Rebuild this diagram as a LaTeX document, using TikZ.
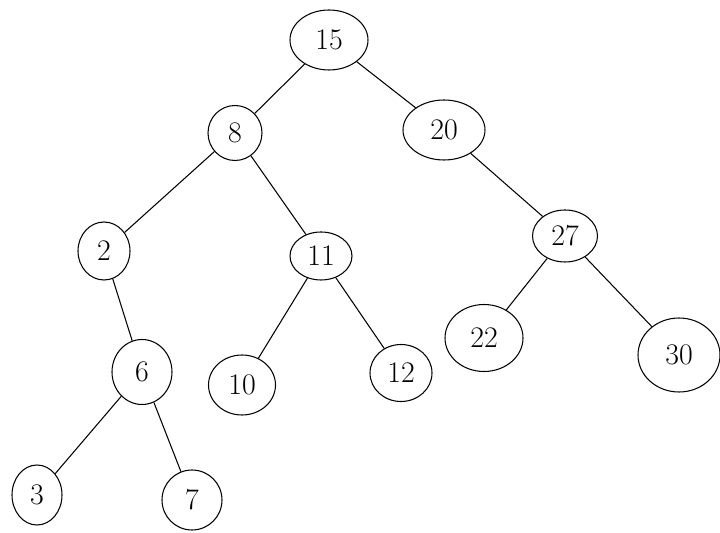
\documentclass[tikz,border=0pt]{standalone}
\usetikzlibrary{shapes.geometric, positioning}

\begin{document}
\begin{tikzpicture}[semithick,
                    every node/.style={font=\fontsize{17}{19}\selectfont},
                    key/.style={ellipse, draw, inner sep=0pt, minimum width=1.2cm, minimum height=1.2cm}]
    \useasboundingbox (0,0) rectangle (14.4,-10.66);

    % Node Placements
    \node[key, minimum width=1.56cm] (K15) at (6.58,-0.80) {15};
    \node[key, minimum width=1.08cm, minimum height=1.1cm] (K8) at (4.70,-2.66) {8};
    \node[key, minimum width=1.64cm] (K20) at (8.88,-2.60) {20};
    \node[key, minimum width=1.04cm, minimum height=1.16cm] (K2) at (2.08,-5.02) {2};
    \node[key, minimum width=1.24cm, minimum height=0.96cm] (K11) at (6.42,-5.12) {11};
    \node[key, minimum width=1.3cm, minimum height=1.04cm] (K27) at (11.30,-4.72) {27};
    \node[key, minimum height=1.3cm] (K6) at (2.84,-7.44) {6};
    \node[key, minimum width=1.34cm] (K10) at (4.84,-7.70) {10};
    \node[key, minimum width=1.24cm, minimum height=1.14cm] (K12) at (8.02,-7.46) {12};
    \node[key, minimum width=1.56cm, minimum height=1.34cm] (K22) at (9.68,-6.76) {22};
    \node[key, minimum width=1.64cm, minimum height=1.48cm] (K30) at (13.58,-7.10) {30};
    \node[key, minimum width=1.0cm] (K3) at (0.74,-9.90) {3};
    \node[key] (K7) at (3.84,-10.0) {7};

    % Tree Edges
    \path
    (K15) edge (K8)
          edge (K20)
    (K8)  edge (K2)
          edge (K11)
    (K20) edge (K27)
    (K2)  edge (K6)
    (K6)  edge (K3)
          edge (K7)
    (K11) edge (K10)
          edge (K12)
    (K27) edge (K22)
          edge (K30);
\end{tikzpicture}
\end{document}
